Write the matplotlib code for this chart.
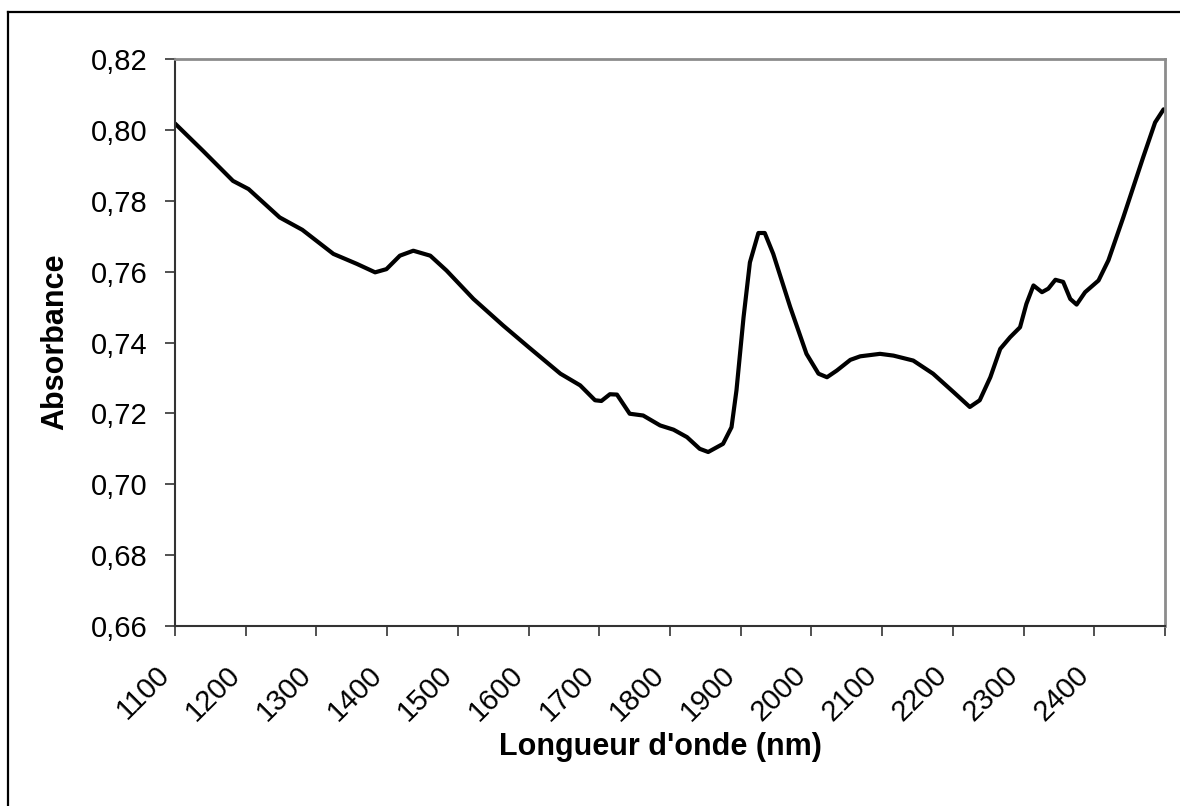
import matplotlib
matplotlib.use('Agg')
import matplotlib.pyplot as plt
from matplotlib.lines import Line2D

# NIR absorbance spectrum
wavelength = [1100, 1140, 1182, 1204, 1248, 1280, 1324, 1357, 1383, 1399, 1418,
              1437, 1461, 1484, 1522, 1564, 1600, 1645, 1673, 1694, 1703,
              1715, 1725, 1743, 1762, 1786, 1805, 1824, 1842, 1854, 1875,
              1887, 1894, 1904, 1913, 1925, 1934, 1946, 1970, 1993, 2010,
              2022, 2036, 2055, 2069, 2097, 2116, 2144, 2172, 2201, 2224,
              2238, 2253, 2267, 2281, 2295, 2304, 2314, 2326, 2335, 2345,
              2356, 2366, 2375, 2387, 2406, 2420, 2441, 2469, 2486, 2498]
absorbance = [0.8018, 0.7940, 0.7856, 0.7833, 0.7753, 0.7718, 0.7650, 0.7622, 0.7598, 0.7607, 0.7645,
              0.7659, 0.7645, 0.7603, 0.7523, 0.7448, 0.7387, 0.7312, 0.7279, 0.7237, 0.7235,
              0.7254, 0.7253, 0.7199, 0.7194, 0.7166, 0.7154, 0.7133, 0.7100, 0.7091, 0.7114,
              0.7161, 0.7265, 0.7471, 0.7626, 0.7709, 0.7709, 0.7650, 0.7500, 0.7368, 0.7312,
              0.7302, 0.7321, 0.7351, 0.7361, 0.7368, 0.7363, 0.7349, 0.7312, 0.7260, 0.7218,
              0.7237, 0.7302, 0.7382, 0.7415, 0.7443, 0.7509, 0.7561, 0.7542, 0.7552, 0.7577,
              0.7571, 0.7523, 0.7507, 0.7542, 0.7575, 0.7632, 0.7753, 0.7922, 0.8021, 0.8058]

x_ticks = list(range(1100, 2600, 100))
x_labels = [str(t) for t in x_ticks[:-1]] + ['']
y_ticks = [0.66, 0.68, 0.70, 0.72, 0.74, 0.76, 0.78, 0.80, 0.82]
y_labels = [f'{v:.2f}'.replace('.', ',') for v in y_ticks]

plt.rcParams['font.family'] = ['Liberation Sans', 'DejaVu Sans']

W, H = 1180, 806
fig = plt.figure(figsize=(W / 100, H / 100), dpi=100)
ax = fig.add_axes([175 / W, 1 - 626 / H, (1165 - 175) / W, (626 - 59) / H])

ax.plot(wavelength, absorbance, color='black', linewidth=3.0,
        solid_joinstyle='round', solid_capstyle='round')

ax.set_xlim(1100, 2500)
ax.set_ylim(0.66, 0.82)
ax.set_xticks(x_ticks)
ax.set_xticklabels(x_labels, fontsize=21, rotation=45, ha='right', va='top')
ax.set_yticks(y_ticks)
ax.set_yticklabels(y_labels, fontsize=21)
ax.tick_params(axis='x', direction='out', length=7, width=1.2, color='#333333', pad=18)
ax.tick_params(axis='y', direction='out', length=7, width=1.2, color='#333333', pad=13)

for side in ('top', 'right'):
    ax.spines[side].set_color('#8c8c8c')
    ax.spines[side].set_linewidth(2.0)
for side in ('left', 'bottom'):
    ax.spines[side].set_color('#333333')
    ax.spines[side].set_linewidth(1.5)

fig.text(660 / W, 1 - 747 / H, "Longueur d'onde (nm)", fontsize=22, fontweight='bold',
         ha='center', va='center')
fig.text(55 / W, 1 - 342 / H, 'Absorbance', fontsize=22, fontweight='bold',
         ha='center', va='center', rotation=90)

# outer chart frame (only left and top edges fall inside the image)
fig.add_artist(Line2D([7.5 / W, 7.5 / W], [0, 1 - 11.5 / H], color='black', linewidth=1.6))
fig.add_artist(Line2D([7.5 / W, 1], [1 - 11.5 / H, 1 - 11.5 / H], color='black', linewidth=1.6))

fig.savefig('out.png', dpi=100)
